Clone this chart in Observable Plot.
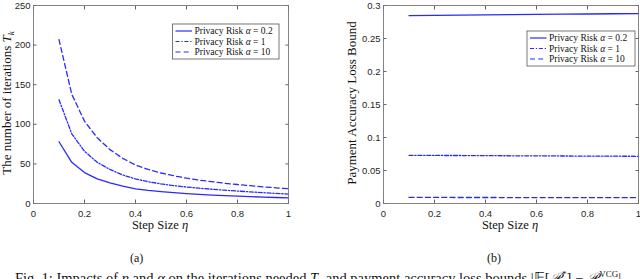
<!DOCTYPE html>
<html>
<head>
<meta charset="utf-8">
<script src="https://cdn.jsdelivr.net/npm/d3@7"></script>
<script src="https://cdn.jsdelivr.net/npm/@observablehq/plot@0.6"></script>
<style>
  html, body { margin: 0; padding: 0; background: #fff; overflow: hidden; }
  #wrap { position: relative; width: 640px; height: 279px; overflow: hidden; }
  .panel { position: absolute; top: 0; }
  .sub { position: absolute; font-family: "Liberation Serif", serif; font-size: 12px; line-height: 14px; color: #111; }
  #caption { position: absolute; left: 15px; top: 266px; white-space: nowrap; font-family: "Liberation Serif", serif; font-size: 14.5px; line-height: 16px; color: #111; }
</style>
</head>
<body>
<div id="wrap">
  <div id="pa" class="panel" style="left:0px"></div>
  <div id="pb" class="panel" style="left:320px"></div>
  <div class="sub" style="left:130px; top:251px">(a)</div>
  <div class="sub" style="left:487px; top:251px">(b)</div>
  <div id="caption">Fig. 1: Impacts of <i>η</i> and <i>α</i> on the iterations needed <i>T<sub style="font-size:9px">k</sub></i> and payment accuracy loss bounds |𝔼[<i>𝒫</i><sub style="font-size:9px"><i>i</i></sub><sup style="font-size:9px">*</sup>] − <i>𝒫</i><sub style="font-size:9px"><i>i</i></sub><sup style="font-size:9px">VCG</sup>|</div>
</div>
<script>
// ---- data ----
const etaA = [0.1, 0.15, 0.2, 0.25, 0.3, 0.35, 0.4, 0.45, 0.5, 0.55, 0.6, 0.65, 0.7, 0.75, 0.8, 0.85, 0.9, 0.95, 1.0];
const iterAlpha02 = [78, 52, 39, 31, 26, 22, 18.5, 16.5, 15, 13.7, 12.5, 11.5, 10.7, 10, 9.3, 8.7, 8.1, 7.6, 7.1];
const iterAlpha1  = [131, 88, 66, 52, 43, 36, 31, 27.5, 24.8, 22.6, 20.8, 19.3, 18, 16.8, 15.7, 14.7, 13.7, 12.8, 11.9];
const iterAlpha10 = [207, 138, 104, 83, 68, 57, 48.5, 43, 38.5, 35, 32, 29.5, 27.5, 25.5, 24, 22.5, 21, 19.8, 18.7];

const etaB = [0.1, 0.2, 0.3, 0.4, 0.5, 0.6, 0.7, 0.8, 0.9, 1.0];
const boundAlpha02 = [0.2848, 0.2851, 0.2855, 0.2858, 0.2861, 0.2865, 0.2868, 0.2871, 0.2875, 0.2878];
const boundAlpha1  = [0.0730, 0.0728, 0.0727, 0.0725, 0.0723, 0.0722, 0.0720, 0.0718, 0.0717, 0.0715];
const boundAlpha10 = [0.0092, 0.0092, 0.0091, 0.0091, 0.0090, 0.0090, 0.0089, 0.0089, 0.0088, 0.0088];

const xTicks = [0, 0.2, 0.4, 0.6, 0.8, 1];
const xTickLabels = ["0", "0.2", "0.4", "0.6", "0.8", "1"];
const yTicksA = [0, 50, 100, 150, 200, 250];
const yTickLabelsA = ["0", "50", "100", "150", "200", "250"];
const yTicksB = [0, 0.05, 0.1, 0.15, 0.2, 0.25, 0.3];
const yTickLabelsB = ["0", "0.05", "0.1", "0.15", "0.2", "0.25", "0.3"];
const seriesLabels = ["0.2", "1", "10"];

// ---- styles ----
const blue = "#2a2aff";
const dashes = [null, "4,1.8,1.3,1.8", "5,3.2"];
const axisColor = "#3a3a3a";
const tickFont = "Liberation Sans, Arial, sans-serif";
const serif = "Liberation Serif, Times New Roman, serif";

function rows(xs, ys) { return xs.map((x, i) => ({x, y: ys[i]})); }

function makePlot({xDomain, yDomain, yTicks, yLabels, series, ml, mr}) {
  const xFmt = d => xTickLabels[xTicks.indexOf(d)];
  const yFmt = d => yLabels[yTicks.indexOf(d)];
  const inward = (anchor, axis) => axis === "x"
    ? Plot.axisX(xTicks, {anchor, tickSize: -3.5, tickFormat: () => "", label: null, stroke: axisColor, strokeWidth: 0.8})
    : Plot.axisY(yTicks, {anchor, tickSize: -3.5, tickFormat: () => "", label: null, stroke: axisColor, strokeWidth: 0.8});
  return Plot.plot({
    width: 320, height: 232,
    marginLeft: ml, marginRight: mr, marginTop: 5, marginBottom: 29,
    style: {fontFamily: tickFont, fontSize: "9.5px", color: "#262626", background: "white", overflow: "visible"},
    x: {domain: xDomain},
    y: {domain: yDomain},
    marks: [
      Plot.axisX(xTicks, {anchor: "bottom", tickSize: 0, tickPadding: 7, tickFormat: xFmt, label: null}),
      Plot.axisY(yTicks, {anchor: "left", tickSize: 0, tickPadding: 3, tickFormat: yFmt, label: null}),
      inward("bottom", "x"), inward("top", "x"), inward("left", "y"), inward("right", "y"),
      ...series.map((s, i) => Plot.line(s, {x: "x", y: "y", stroke: blue, strokeWidth: 1.3, strokeDasharray: dashes[i]})),
      Plot.frame({stroke: "#777", strokeWidth: 0.9})
    ]
  });
}

function addLegend(svg, x0, y0, w, h) {
  const g = d3.select(svg).append("g").attr("text-anchor", "start");
  g.append("rect").attr("x", x0).attr("y", y0).attr("width", w).attr("height", h)
    .attr("fill", "white").attr("stroke", "#555").attr("stroke-width", 0.8);
  seriesLabels.forEach((lab, i) => {
    const yy = y0 + 7 + i * 10.5;
    g.append("line").attr("x1", x0 + 3).attr("x2", x0 + 19.5).attr("y1", yy).attr("y2", yy)
      .attr("stroke", blue).attr("stroke-width", 1.2).attr("stroke-dasharray", dashes[i]);
    const t = g.append("text").attr("x", x0 + 22).attr("y", yy + 3.3).attr("text-anchor", "start")
      .attr("font-family", serif).attr("font-size", "9.5px").attr("fill", "#111");
    t.append("tspan").text("Privacy Risk ");
    t.append("tspan").attr("font-style", "italic").text("α");
    t.append("tspan").text(" = " + lab);
  });
}

function addLabels(svg, xLabelX, yLabelX, yMid, yParts) {
  const s = d3.select(svg);
  const tx = s.append("text").attr("x", xLabelX).attr("y", 229).attr("text-anchor", "middle")
    .attr("font-family", serif).attr("font-size", "12.5px").attr("fill", "#111");
  tx.append("tspan").text("Step Size ");
  tx.append("tspan").attr("font-style", "italic").text("η");
  const ty = s.append("text").attr("transform", `translate(${yLabelX},${yMid}) rotate(-90)`)
    .attr("text-anchor", "middle").attr("font-family", serif).attr("font-size", "13px").attr("fill", "#111");
  yParts(ty);
}

// ---- panel (a) ----
const pa = makePlot({
  xDomain: [0, 1], yDomain: [0, 250], yTicks: yTicksA, yLabels: yTickLabelsA,
  series: [rows(etaA, iterAlpha02), rows(etaA, iterAlpha1), rows(etaA, iterAlpha10)],
  ml: 33, mr: 32
});
addLegend(pa, 172.5, 24, 106.5, 35);
addLabels(pa, 160, 11, 103, t => {
  t.append("tspan").text("The number of iterations ");
  t.append("tspan").attr("font-style", "italic").text("T");
  t.append("tspan").attr("font-style", "italic").attr("font-size", "9px").attr("dy", 2.5).text("k");
});
document.getElementById("pa").appendChild(pa);

// ---- panel (b) ----
const pb = makePlot({
  xDomain: [0, 1], yDomain: [0, 0.3], yTicks: yTicksB, yLabels: yTickLabelsB,
  series: [rows(etaB, boundAlpha02), rows(etaB, boundAlpha1), rows(etaB, boundAlpha10)],
  ml: 63, mr: 2
});
addLegend(pb, 207, 31, 108, 35);
addLabels(pb, 190, 36, 103, t => {
  t.append("tspan").text("Payment Accuracy Loss Bound");
});
document.getElementById("pb").appendChild(pb);
</script>
</body>
</html>
